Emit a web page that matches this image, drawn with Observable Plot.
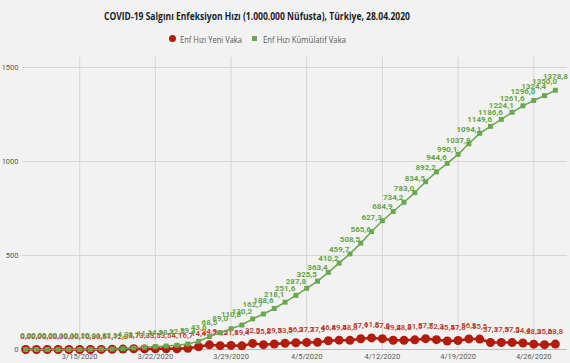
<!DOCTYPE html>
<html><head><meta charset="utf-8">
<script src="https://cdn.jsdelivr.net/npm/d3@7"></script>
<script src="https://cdn.jsdelivr.net/npm/@observablehq/plot@0.6"></script>
<style>
html,body{margin:0;padding:0;background:#f2f2f2;}
body{width:570px;height:363px;overflow:hidden;position:relative;}
.fit{position:absolute;white-space:nowrap;transform-origin:0 50%;line-height:1;}
#title{font:bold 10.5px "Open Sans",sans-serif;color:#1e1e1e;top:9px;}
.lg{font:9px "Open Sans",sans-serif;color:#595959;top:33px;}
.mk{position:absolute;}
#chart{position:absolute;left:0;top:50px;}
</style></head>
<body>
<div id="title" class="fit" data-l="104" data-w="306">COVID-19 Salgını Enfeksiyon Hızı (1.000.000 Nüfusta), Türkiye, 28.04.2020</div>
<div class="mk" style="left:168.5px;top:34.8px;width:7px;height:7px;border-radius:50%;background:#b31b0b"></div>
<div class="fit lg" data-l="180" data-w="62">Enf Hızı Yeni Vaka</div>
<div class="mk" style="left:251.5px;top:35.5px;width:5px;height:5px;background:#6aa84f"></div>
<div class="fit lg" data-l="263" data-w="83">Enf Hızı Kümülatif Vaka</div>
<div id="chart"></div>
<script>
// ---- data ----
const startDate = "2020-03-10";
const endDate = "2020-04-28";
const seriesNames = ["Enf Hızı Yeni Vaka", "Enf Hızı Kümülatif Vaka"];
const newCases = [
  0.0, 0.0, 0.0, 0.0, 0.0, 0.1, 0.3, 0.6, 1.1, 2.0,
  3.7, 3.3, 3.5, 3.5, 4.1, 6.7, 14.4, 24.9, 20.5, 21.8,
  19.4, 32.5, 25.8, 29.5, 33.5, 36.2, 37.7, 37.9, 46.8, 49.5,
  48.8, 57.1, 61.8, 57.6, 49.2, 48.8, 51.5, 57.7, 52.3, 45.5,
  47.8, 56.2, 55.5, 37.1, 37.5, 37.5, 34.4, 28.3, 25.6, 28.8
];
const cumulative = [
  0.0, 0.0, 0.0, 0.1, 0.1, 0.2, 0.6, 1.2, 2.3, 4.3,
  8.1, 11.4, 14.9, 18.4, 22.5, 29.3, 43.6, 68.5, 89.0, 110.8,
  130.2, 162.7, 188.6, 218.1, 251.6, 287.8, 325.5, 363.4, 410.2, 459.7,
  508.5, 565.6, 627.3, 684.9, 734.2, 783.0, 834.5, 892.2, 944.6, 990.1,
  1037.9, 1094.1, 1149.6, 1186.6, 1224.1, 1261.6, 1296.0, 1324.4, 1350.0, 1378.8
];
const xTickDates = ["2020-03-15","2020-03-22","2020-03-29","2020-04-05","2020-04-12","2020-04-19","2020-04-26"];
const yTicks = [0, 500, 1000, 1500];

// ---- build ----
const parse = d3.utcParse("%Y-%m-%d");
const dates = d3.utcDay.range(parse(startDate), d3.utcDay.offset(parse(endDate), 1));
const data = dates.map((d, i) => ({date: d, yeni: newCases[i], kum: cumulative[i]}));
const ticks = xTickDates.map(parse);
const fmt = v => v.toFixed(1).replace(".", ",");
const RED = "#b31b0b", GREEN = "#6aa84f";

const chart = Plot.plot({
  width: 570, height: 313,
  marginLeft: 22, marginRight: 3, marginTop: 7, marginBottom: 14,
  style: {background: "transparent", fontFamily: "Roboto, sans-serif", fontSize: "7.5px", color: "#595959"},
  x: {type: "utc",
      domain: [d3.utcHour.offset(parse(startDate), -7), d3.utcHour.offset(parse(endDate), 27)],
      ticks: ticks, tickFormat: d3.utcFormat("%-m/%-d/%Y"), tickSize: 0, tickPadding: 4, label: null},
  y: {domain: [0, 1553], ticks: yTicks, tickFormat: d => String(d), tickSize: 0, tickPadding: 4, label: null},
  marks: [
    Plot.gridX(ticks, {stroke: "#d6d6d6", strokeOpacity: 1, strokeWidth: 1}),
    Plot.gridY(yTicks.filter(t => t > 0), {stroke: "#d6d6d6", strokeOpacity: 1, strokeWidth: 1}),
    Plot.ruleY([0], {stroke: "#bdbdbd", strokeWidth: 1}),
    Plot.line(data, {x: "date", y: "yeni", stroke: RED, strokeWidth: 2.5}),
    Plot.dot(data, {x: "date", y: "yeni", r: 4.5, fill: RED, stroke: "none"}),
    Plot.text(data, {x: "date", y: "yeni", text: d => fmt(d.yeni), dy: -13, fill: "#c0392b", fontSize: 7.8, fontWeight: 600}),
    Plot.line(data, {x: "date", y: "kum", stroke: GREEN, strokeWidth: 1.5}),
    Plot.dot(data, {x: "date", y: "kum", symbol: "square", r: 2.8, fill: GREEN, stroke: "none"}),
    Plot.text(data, {x: "date", y: "kum", text: d => fmt(d.kum), dy: -14, fill: "#62a645", fontSize: 8, fontWeight: "bold"})
  ]
});
document.getElementById("chart").appendChild(chart);

// fit HTML texts to their measured widths in the reference
document.querySelectorAll(".fit").forEach(el => {
  el.style.left = el.dataset.l + "px";
  const w = el.getBoundingClientRect().width;
  el.style.transform = `scaleX(${(+el.dataset.w) / w})`;
});
</script>
</body></html>
